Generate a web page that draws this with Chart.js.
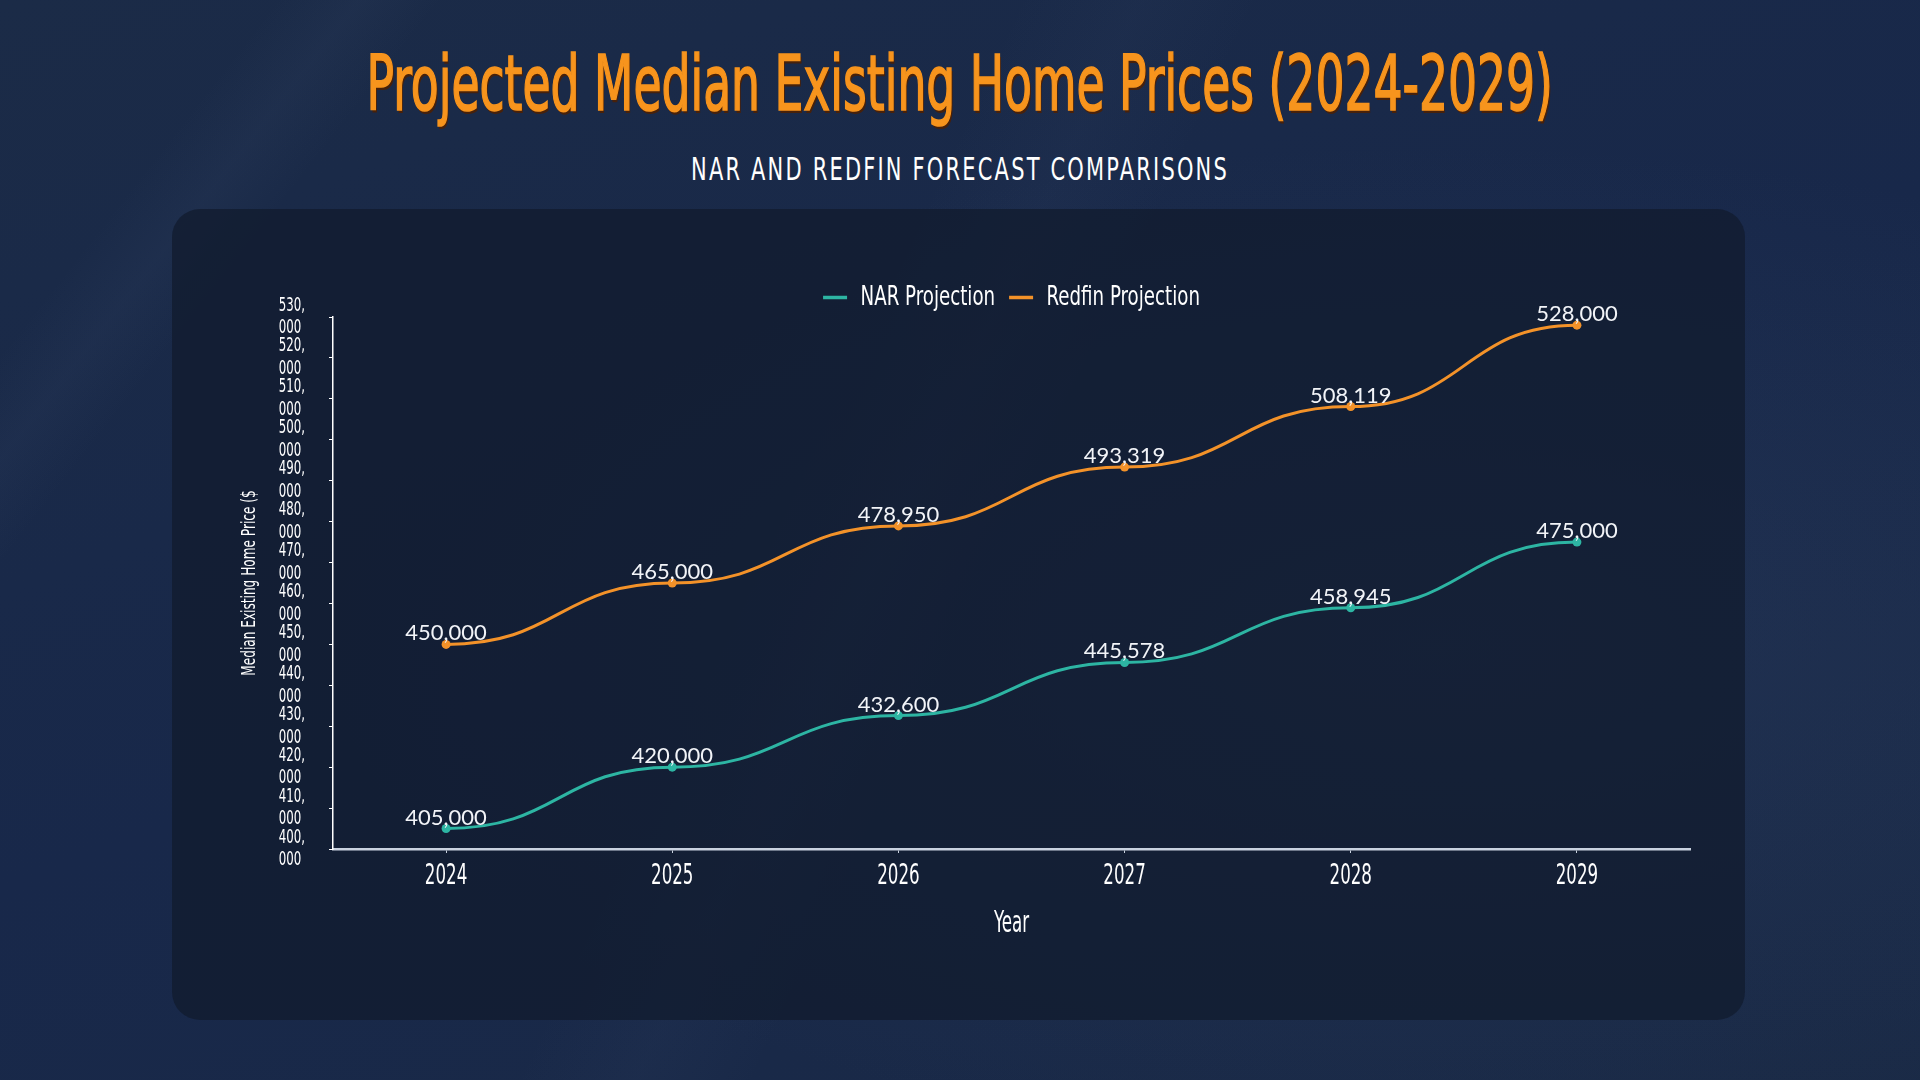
<!DOCTYPE html>
<html><head><meta charset="utf-8">
<script src="https://cdn.jsdelivr.net/npm/chart.js@4.4.1/dist/chart.umd.min.js"></script>
<style>
html,body{margin:0;padding:0;width:1920px;height:1080px;overflow:hidden;}
body{background:#1a2a45;position:relative;font-family:'DejaVu Sans Condensed','DejaVu Sans',sans-serif;}
.bg{position:absolute;inset:0;
 background:
  linear-gradient(128deg, rgba(255,255,255,0) 10%, rgba(110,130,170,0.05) 13%, rgba(255,255,255,0) 16%),
  linear-gradient(115deg, rgba(255,255,255,0) 42%, rgba(110,130,170,0.04) 47%, rgba(255,255,255,0) 52%),
  radial-gradient(ellipse at 75% 60%, rgba(60,80,115,0.22), rgba(0,0,0,0) 55%),
  linear-gradient(160deg,#1b2b47 0%,#18284a 50%,#1a2a46 100%);}
#title{position:absolute;top:46px;left:0;width:1920px;text-align:center;}
#title span{display:inline-block;color:#F7941D;font-size:76px;font-weight:normal;-webkit-text-stroke:1.6px #F7941D;line-height:1;white-space:nowrap;text-shadow:2px 3px 0 rgba(80,32,0,.85);transform-origin:50% 50%;}
#sub{position:absolute;top:153px;left:0;width:1920px;text-align:center;}
#sub span{display:inline-block;color:#ffffff;font-size:32px;letter-spacing:3px;line-height:1;white-space:nowrap;transform-origin:50% 50%;}
#card{position:absolute;left:172px;top:209px;width:1573px;height:811px;border-radius:28px;background:rgba(16,26,44,0.72);overflow:hidden;}
#c{position:absolute;left:0;top:0;}
</style></head>
<body>
<div class="bg"></div>
<div id="title"><span>Projected Median Existing Home Prices (2024-2029)</span></div>
<div id="sub"><span>NAR AND REDFIN FORECAST COMPARISONS</span></div>
<div id="card"><canvas id="c" width="1573" height="811"></canvas></div>
<script>
const years = ['2024','2025','2026','2027','2028','2029'];
const narValues = [405000, 420000, 432600, 445578, 458945, 475000];
const redfinValues = [450000, 465000, 478950, 493319, 508119, 528000];
const seriesNames = ['NAR Projection','Redfin Projection'];
const seriesColors = ['#2DB5A3','#F39229'];
const yMin = 400000, yMax = 530000, yStep = 10000;
const yTitle = 'Median Existing Home Price ($';
const xTitle = 'Year';

function fit(sel, w){const s=document.querySelector(sel);const ow=s.offsetWidth;s.style.transform='scaleX('+(w/ow)+')';}
fit('#title span',1186); fit('#sub span',538);

// horizontally condensed canvas text: family marker 'XCnn' gives width factor nn/100
(function(){
  const P = CanvasRenderingContext2D.prototype;
  const fT = P.fillText, mT = P.measureText;
  const k = c => { const m = /XC(\d+)/.exec(c.font); return m ? (+m[1])/100 : 1; };
  P.fillText = function(t,x,y,mw){
    const s = k(this); if (s === 1) return fT.apply(this, arguments);
    this.save(); this.translate(x,y); this.scale(s,1);
    if (mw !== undefined) fT.call(this,t,0,0,mw/s); else fT.call(this,t,0,0);
    this.restore();
  };
  P.measureText = function(t){
    const m = mT.call(this,t); const s = k(this); if (s === 1) return m;
    return {width:m.width*s, actualBoundingBoxLeft:m.actualBoundingBoxLeft*s, actualBoundingBoxRight:m.actualBoundingBoxRight*s,
      actualBoundingBoxAscent:m.actualBoundingBoxAscent, actualBoundingBoxDescent:m.actualBoundingBoxDescent,
      fontBoundingBoxAscent:m.fontBoundingBoxAscent, fontBoundingBoxDescent:m.fontBoundingBoxDescent};
  };
})();
const cf = n => "'XC" + n + "','DejaVu Sans Condensed','DejaVu Sans',sans-serif";

const bumpCurve = {
  id:'bumpCurve',
  beforeDatasetDraw(chart, args){
    const meta = args.meta; const line = meta.dataset; if(!line) return;
    line.updateControlPoints(chart.chartArea, meta.indexAxis);
    const pts = meta.data;
    for(let i=0;i<pts.length;i++){
      const p=pts[i], prev=pts[i-1], next=pts[i+1];
      if(prev){p.cp1x = p.x - (p.x-prev.x)*0.5; p.cp1y = p.y;} else {p.cp1x=p.x;p.cp1y=p.y;}
      if(next){p.cp2x = p.x + (next.x-p.x)*0.5; p.cp2y = p.y;} else {p.cp2x=p.x;p.cp2y=p.y;}
    }
    line._path = undefined;
  }
};
const legendHeight = {
  id:'legendHeight',
  afterInit(chart){
    const lg = chart.legend; if(!lg) return;
    const orig = lg.fit.bind(lg);
    lg.fit = function(){ orig(); this.height = 47; this.bottom = this.top + this.height; };
  }
};
const valueLabels = {
  id:'valueLabels',
  afterDatasetsDraw(chart){
    const ctx = chart.ctx; ctx.save();
    ctx.font = "400 22px Lato, 'Open Sans', sans-serif";
    ctx.fillStyle = '#f2f4f8'; ctx.textAlign='center'; ctx.textBaseline='alphabetic';
    chart.data.datasets.forEach((ds,di)=>{
      const meta = chart.getDatasetMeta(di);
      meta.data.forEach((pt,i)=>{ ctx.fillText(ds.data[i].toLocaleString('en-US'), pt.x, pt.y-4); });
    });
    ctx.restore();
  }
};

new Chart(document.getElementById('c'), {
  type:'line',
  data:{labels:years, datasets:[
    {label:seriesNames[0], data:narValues, borderColor:seriesColors[0], backgroundColor:seriesColors[0], borderWidth:3, tension:0.4, pointRadius:4.5, pointBackgroundColor:seriesColors[0], pointBorderWidth:0},
    {label:seriesNames[1], data:redfinValues, borderColor:seriesColors[1], backgroundColor:seriesColors[1], borderWidth:3, tension:0.4, pointRadius:4.5, pointBackgroundColor:seriesColors[1], pointBorderWidth:0}
  ]},
  options:{
    responsive:false, animation:false,
    layout:{padding:{left:40,right:55,top:61,bottom:40}},
    plugins:{
      legend:{position:'top', fullSize:false, labels:{color:'#ffffff', font:{family:cf(75),size:27}, usePointStyle:true, pointStyle:'line', pointStyleWidth:24, padding:14,
        generateLabels(chart){
          const items = Chart.defaults.plugins.legend.labels.generateLabels(chart);
          items.forEach((it,i)=>{ it.lineWidth=3.5; it.strokeStyle=seriesColors[i]; it.fillStyle=seriesColors[i]; it.pointStyle='line'; });
          return items;
        }}},
      tooltip:{enabled:false}
    },
    scales:{
      x:{offset:true,
        afterFit(s){ s.height = 131; },
        grid:{display:true, drawOnChartArea:false, drawTicks:true, tickLength:4, color:'#c9d2df'},
        border:{display:true, color:'#c9d2df', width:2.5},
        ticks:{color:'#ffffff', font:{family:cf(64),size:29}, padding:6, maxRotation:0},
        title:{display:true, text:xTitle, color:'#ffffff', font:{family:cf(60),size:31}, padding:{top:0,bottom:37}}
      },
      y:{min:yMin, max:yMax,
        afterFit(s){ s.width = 121; },
        grid:{display:true, drawOnChartArea:false, drawTicks:true, tickLength:4, color:'#ffffff'},
        border:{display:true, color:'#ffffff', width:1.5},
        ticks:{stepSize:yStep, autoSkip:false, color:'#ffffff', font:{family:cf(69),size:19, lineHeight:1.2}, padding:24, crossAlign:'near',
          callback:(v)=>[Math.floor(v/1000)+',', String(v%1000).padStart(3,'0')+'\u2008']},
        title:{display:true, text:yTitle, color:'#ffffff', font:{family:cf(71),size:19}, padding:{top:27,bottom:0}}
      }
    }
  },
  plugins:[bumpCurve, legendHeight, valueLabels]
});
</script>
</body></html>
